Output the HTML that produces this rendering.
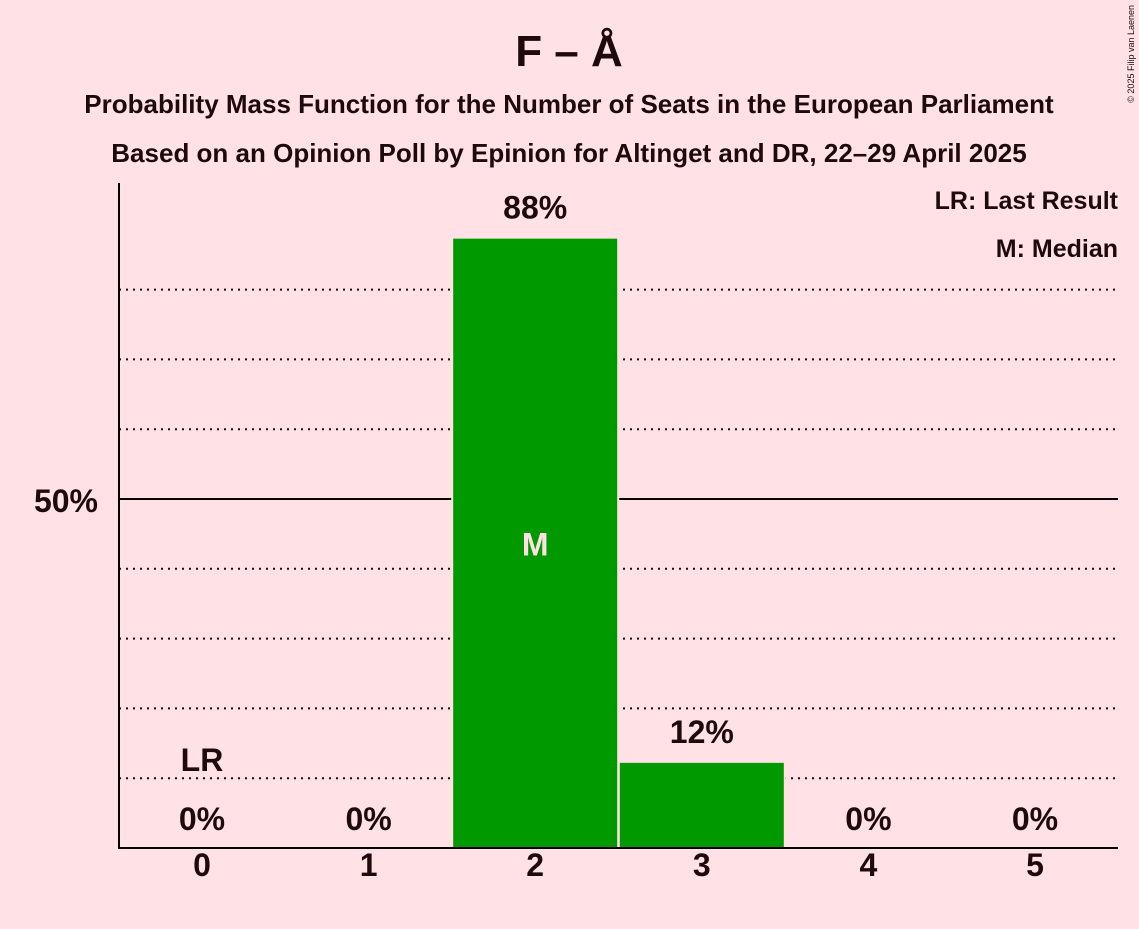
<!DOCTYPE html>
<html><head><meta charset="utf-8"><style>
html,body{margin:0;padding:0;background:#ffe1e6;}
svg text{font-family:"Liberation Sans",sans-serif;font-weight:bold;fill:#1e0a0c;}
</style></head><body>
<svg width="1139" height="924" viewBox="0 0 1139 924">
<rect width="1139" height="924" fill="#ffe1e6"/>
<text x="569" y="66" font-size="44" text-anchor="middle">F – Å</text>
<text x="569" y="113" font-size="26" text-anchor="middle">Probability Mass Function for the Number of Seats in the European Parliament</text>
<text x="569" y="162" font-size="26" text-anchor="middle">Based on an Opinion Poll by Epinion for Altinget and DR, 22–29 April 2025</text>
<text x="1134" y="5" font-size="9" transform="rotate(-90 1134 5)" text-anchor="end" style="font-weight:normal">© 2025 Filip van Laenen</text>
<g id="grid"></g>
<g id="bars"></g>
<line x1="119" y1="183" x2="119" y2="848" stroke="#000" stroke-width="2"/>
<line x1="118" y1="848" x2="1118" y2="848" stroke="#000" stroke-width="2"/>
<text x="98" y="512" font-size="32" text-anchor="end">50%</text>
<text x="1118" y="209" font-size="25" text-anchor="end">LR: Last Result</text>
<text x="1118" y="257" font-size="25" text-anchor="end">M: Median</text>
<g id="labels"></g>
</svg>
<script>
const categories=[0,1,2,3,4,5];
const values=[0,0,87.3,12.2,0,0];
const valueLabels=["0%","0%","88%","12%","0%","0%"];
const gridValues=[10,20,30,40,60,70,80];
const lastResult=0, median=2;
const NS="http://www.w3.org/2000/svg";
const x=c=>202+c*166.6, y=v=>848-v*6.98, bw=164;
const grid=document.getElementById('grid'),bars=document.getElementById('bars'),labels=document.getElementById('labels');
function mk(tag,attrs,parent){const e=document.createElementNS(NS,tag);for(const k in attrs)e.setAttribute(k,attrs[k]);parent.appendChild(e);return e;}
gridValues.forEach(g=>{const l=mk('line',{x1:119,x2:1118,y1:y(g),y2:y(g),stroke:'#1e0a0c','stroke-width':2,'stroke-dasharray':'2 5'},grid);

});
const l50=mk('line',{x1:119,x2:1118,y1:y(50),y2:y(50),stroke:'#000','stroke-width':2},grid);


categories.forEach((c,i)=>{
 const v=values[i];
 if(v>0){const r=mk('rect',{x:x(c)-bw/2,y:y(v),width:bw,height:848-y(v),fill:'#009900',stroke:'#ffe1e6','stroke-width':4},bars);
 
 
 const r2=mk('rect',{x:x(c)-bw/2,y:y(v),width:bw,height:848-y(v),fill:'#009900'},bars);
 
 }
 const ly=v>5?y(v)-20:830;
 const t=mk('text',{x:x(c),y:ly,'font-size':32,'text-anchor':'middle'},labels);t.textContent=valueLabels[i];
 
 
 const tk=mk('text',{x:x(c),y:876,'font-size':32,'text-anchor':'middle'},labels);tk.textContent=c;
 
 
 if(c===median){const m=mk('text',{x:x(c),y:y(values[i]/2)+12,'font-size':32,'text-anchor':'middle',style:'fill:#ffe1e6'},labels);m.textContent='M';
 
 }
 if(c===lastResult){const lr=mk('text',{x:x(c),y:771,'font-size':32,'text-anchor':'middle'},labels);lr.textContent='LR';
 
 }
});
</script>
</body></html>
